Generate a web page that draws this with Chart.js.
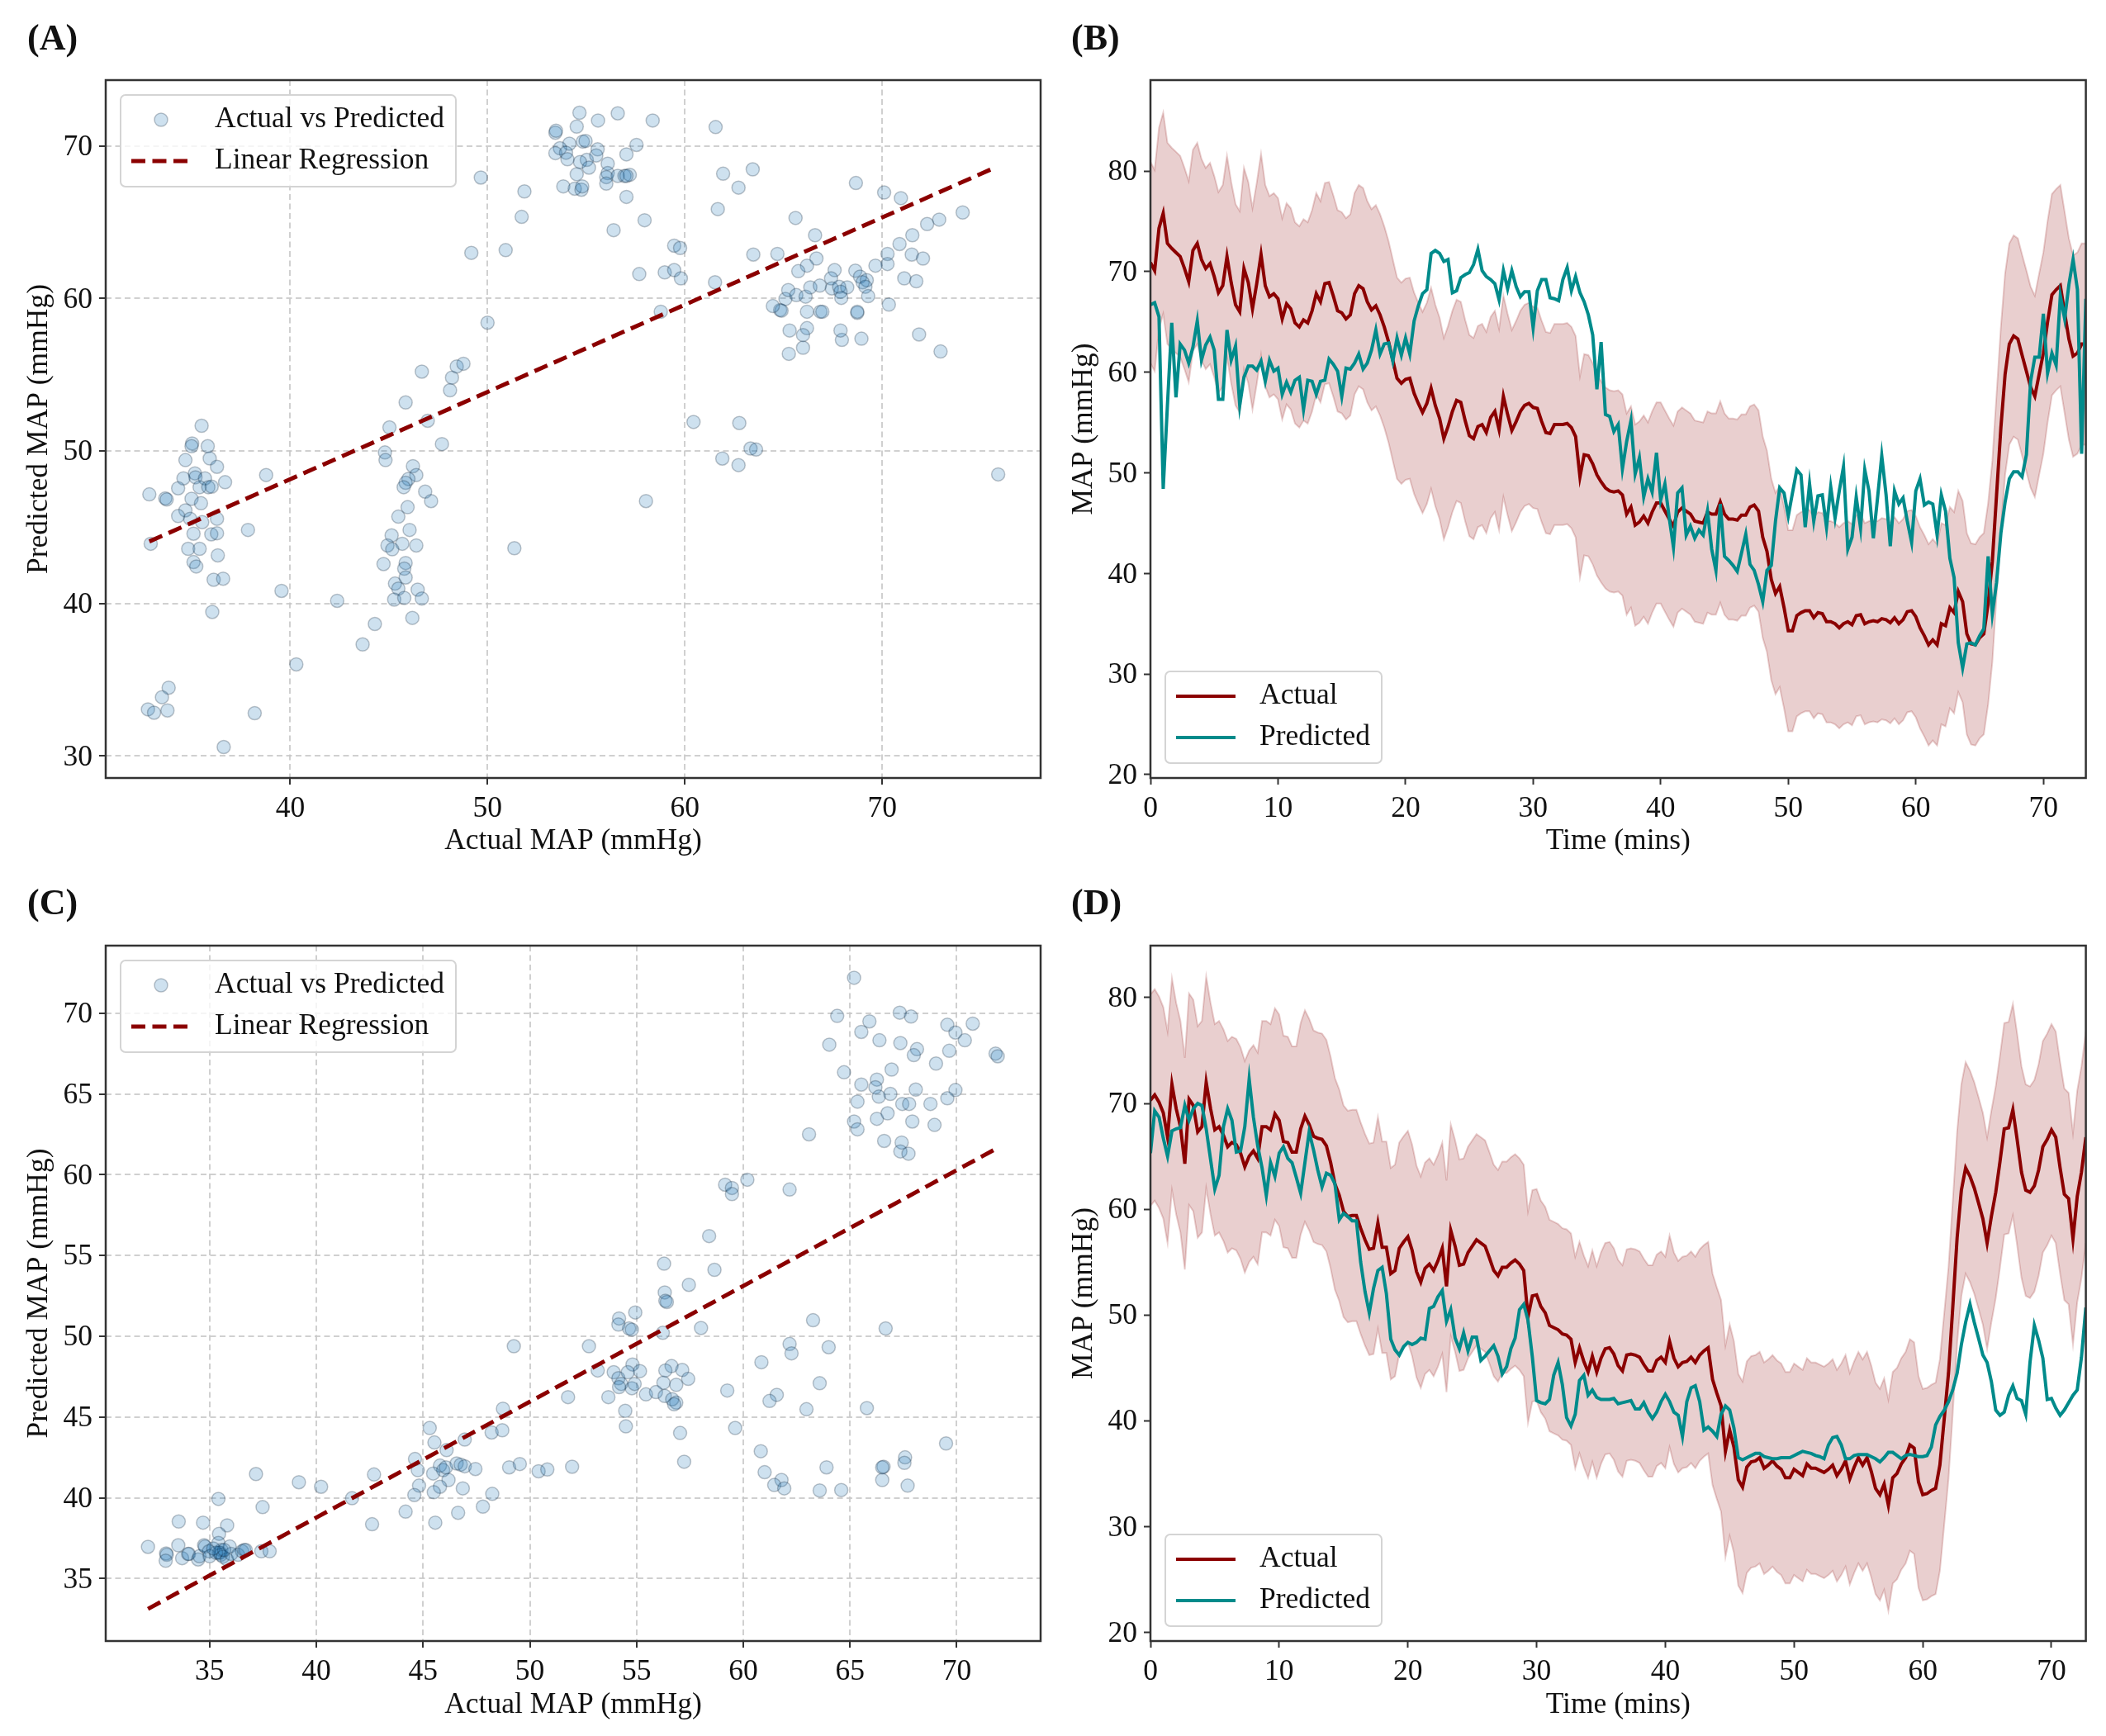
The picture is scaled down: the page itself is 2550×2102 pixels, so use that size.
<!DOCTYPE html>
<html>
<head>
<meta charset="utf-8">
<title>MAP charts</title>
<script src="https://cdn.jsdelivr.net/npm/chart.js"></script>
<style>
  html, body { margin: 0; background: #fff; }
  #page { position: relative; width: 2550px; height: 2102px; overflow: hidden; filter: blur(0.7px); }
  canvas { position: absolute; }
  .tag { position: absolute; font: bold 44px "Liberation Serif", serif; color: #111; line-height: 50px; }
</style>
</head>
<body>
<div id="page">
  <canvas id="chartA" width="1275" height="1051" style="left:0;top:0"></canvas>
  <canvas id="chartB" width="1275" height="1051" style="left:1275px;top:0"></canvas>
  <canvas id="chartC" width="1275" height="1051" style="left:0;top:1051px"></canvas>
  <canvas id="chartD" width="1275" height="1051" style="left:1275px;top:1051px"></canvas>
  <div class="tag" style="left:33px;top:21px">(A)</div>
  <div class="tag" style="left:1297px;top:21px">(B)</div>
  <div class="tag" style="left:33px;top:1068px">(C)</div>
  <div class="tag" style="left:1297px;top:1068px">(D)</div>
</div>
<script>
// panel A scatter
const scatterAX = [53.44,53.47,54.52,54.66,56.6,55.6,58.37,61.56,54.15,54.83,54.97,53.67,53.44,53.98,54.05,55.03,54.69,55.58,55.51,55.14,56.09,56.09,56.02,56.02,56.6,56.94,57.21,57.04,57.04,57.55,54.52,53.84,54.42,54.76,54.8,57.04,56.39,57.96,57.69,58.98,59.46,59.8,59.46,59.76,58.78,49.66,51.87,51.73,49.18,50.92,50.0,61.94,62.72,63.44,61.67,63.47,61.53,64.69,65.61,66.6,66.67,66.19,65.75,68.67,70.1,70.95,70.88,71.53,72.28,72.89,74.08,71.5,72.07,70.27,70.27,69.66,68.64,67.59,67.41,71.12,71.73,68.88,69.22,69.01,69.15,69.29,70.34,71.87,72.96,68.95,67.96,67.89,68.74,68.74,66.87,66.97,66.19,66.19,65.99,65.99,65.27,65.31,64.83,64.9,64.46,65.1,65.24,65.65,66.12,66.36,66.84,67.45,67.82,68.23,67.89,67.93,35.51,35.03,35.0,35.82,35.92,34.69,36.29,35.17,34.59,35.2,35.68,36.7,34.32,35.41,35.85,36.02,32.86,33.67,33.74,35.0,35.48,34.69,34.32,34.93,36.29,35.54,37.86,35.1,36.0,36.29,32.93,34.83,35.41,36.33,35.1,35.24,36.12,36.6,36.05,38.78,39.56,42.38,40.31,38.2,36.63,33.84,33.5,33.78,32.79,33.1,44.29,43.67,51.36,58.03,75.88,60.44,62.76,63.33,63.61,61.9,62.72,46.67,45.85,48.1,48.2,48.44,48.78,46.97,45.03,47.69,44.8,44.83,46.22,46.39,45.99,45.85,45.75,46.84,47.14,45.95,45.48,46.05,45.14,45.68,46.39,44.93,45.17,44.73,45.85,45.78,45.85,45.31,45.48,46.46,46.67,45.27,45.78,46.19];
const scatterAY = [70.87,71.0,71.27,72.18,72.14,71.67,71.67,71.24,70.15,70.29,70.33,69.85,69.53,69.56,69.13,69.09,68.95,69.78,69.38,68.58,68.84,68.22,67.96,67.53,68.04,68.04,68.11,68.04,69.45,70.07,68.15,67.35,67.2,67.13,67.35,66.66,64.48,65.13,61.6,61.71,61.86,61.32,63.46,63.31,59.13,67.93,67.02,65.35,62.99,63.17,58.41,68.18,67.27,68.47,65.86,62.88,61.06,62.92,65.28,64.15,62.62,62.15,61.79,67.57,66.95,66.58,63.57,64.15,64.88,65.17,65.64,62.88,62.62,62.92,62.26,62.15,61.82,61.86,61.32,61.32,61.13,61.43,61.2,61.06,60.77,60.15,59.6,57.64,56.52,57.36,57.28,57.9,59.06,59.13,59.13,59.13,59.13,58.05,57.6,56.77,56.37,57.9,59.24,59.2,59.5,59.97,60.55,60.22,60.12,60.73,60.84,60.66,60.77,60.73,60.44,60.04,51.65,50.49,50.31,50.31,49.51,49.4,48.96,48.53,48.2,48.27,48.2,47.95,47.55,47.62,47.62,47.66,47.15,46.89,46.82,46.86,46.57,46.1,45.73,45.55,45.55,45.33,44.82,44.57,44.53,44.6,43.91,43.58,43.58,43.15,42.71,42.42,41.55,41.62,39.44,48.42,40.82,40.17,36.0,32.8,30.58,34.47,33.85,32.98,33.05,32.83,38.65,37.31,43.62,46.71,48.46,51.9,51.83,50.16,50.09,49.5,49.07,55.2,53.18,53.98,54.81,55.54,55.72,51.98,51.54,50.45,49.9,49.4,49.0,48.42,48.16,47.91,47.62,47.33,46.71,46.31,45.69,44.82,44.46,43.91,43.8,43.8,43.55,42.58,42.65,42.28,41.7,41.3,40.97,40.9,40.32,40.25,40.36,39.05];
const fitAX = [32.86, 75.71];
const fitAY = [44.06, 68.58];

// panel C scatter
const scatterCX = [65.19,64.4,65.91,67.33,67.86,69.56,70.75,69.94,70.38,65.53,66.38,67.36,64.03,68.14,67.99,69.65,71.82,71.92,69.03,66.95,64.72,65.53,66.26,66.19,66.35,66.89,68.08,69.94,69.56,65.35,67.45,67.77,68.77,65.19,65.35,66.26,66.76,67.92,68.96,66.6,67.42,67.36,67.74,63.08,59.15,59.47,59.47,60.19,62.17,58.4,58.65,56.29,57.45,56.32,56.35,56.42,54.18,54.15,54.94,54.65,54.78,56.23,58.02,63.27,66.67,62.17,62.26,64.0,60.85,52.77,49.25,53.18,54.81,56.64,55.16,53.93,56.35,57.14,54.15,54.59,57.42,56.26,56.86,54.28,54.18,54.78,54.91,55.44,55.91,53.68,51.79,56.32,56.67,56.86,56.76,59.25,63.58,61.57,61.23,62.96,65.79,54.47,54.5,59.62,57.04,57.23,60.82,61.0,69.5,67.58,67.55,66.57,66.51,63.9,66.51,67.7,61.79,61.45,61.92,63.58,64.59,45.31,45.53,46.1,46.95,48.21,48.71,48.74,44.62,44.75,45.79,45.47,45.94,46.07,46.57,46.76,46.95,47.45,46.19,44.81,45.79,45.5,44.59,49.03,49.53,50.41,50.82,51.98,42.7,46.86,48.24,46.64,47.8,44.18,45.57,42.61,41.67,40.22,39.18,37.17,37.48,35.41,33.55,34.69,35.82,35.44,32.11,32.96,32.99,32.94,33.53,33.71,34.03,33.99,34.46,34.52,34.74,34.78,34.97,35.0,35.41,35.43,35.49,35.55,35.52,35.62,35.3,35.81,35.94,36.01,36.33,36.52,36.62,36.69,37.42,37.81,35.17,35.68];
const scatterCY = [72.19,69.83,69.49,70.03,69.79,69.28,69.35,68.8,68.32,68.84,68.32,68.15,68.05,67.77,67.4,67.67,67.5,67.33,66.88,66.51,66.34,65.58,65.89,65.41,64.83,65.0,65.27,65.24,64.73,64.52,64.38,64.38,64.38,63.29,62.81,63.46,63.8,63.29,63.08,62.09,61.99,61.44,61.3,62.5,59.38,59.18,58.8,59.69,59.08,56.2,54.11,54.49,53.18,52.71,52.19,52.12,51.1,50.72,51.47,50.48,50.41,50.21,50.51,50.99,50.48,49.52,48.94,49.32,48.39,49.38,49.38,47.88,48.25,48.15,47.84,47.77,47.88,47.91,47.4,47.77,47.36,47.12,46.99,47.05,46.85,46.78,47.05,46.4,46.54,46.23,46.23,46.3,46.1,45.89,45.79,46.64,47.09,46.37,45.99,45.48,45.55,45.38,44.42,44.32,44.01,42.23,42.88,41.58,43.36,42.5,42.16,41.92,41.88,41.88,41.1,40.75,41.1,40.79,40.58,40.45,40.48,44.32,43.42,42.95,43.6,44.04,44.18,45.51,42.4,41.71,41.99,41.5,41.71,41.88,42.12,42.05,41.95,41.78,41.1,40.75,40.68,40.34,40.17,41.88,42.09,41.64,41.75,41.92,41.44,40.58,40.24,39.07,39.45,39.14,38.46,38.36,39.97,40.68,40.96,41.47,39.42,39.93,38.53,38.46,38.29,37.77,36.96,36.55,36.47,36.1,37.06,36.26,36.52,36.52,36.18,36.38,37.06,36.98,36.69,36.38,37.2,36.6,36.6,36.77,36.47,36.35,36.6,36.18,36.98,36.52,36.47,36.69,36.77,36.77,36.69,36.69,36.86,36.77];
const fitCX = [32.11, 71.95];
const fitCY = [33.12, 61.68];

// time axis, minutes
const timeMins = [0,0.33,0.67,1,1.33,1.67,2,2.33,2.67,3,3.33,3.67,4,4.33,4.67,5,5.33,5.67,6,6.33,6.67,7,7.33,7.67,8,8.33,8.67,9,9.33,9.67,10,10.33,10.67,11,11.33,11.67,12,12.33,12.67,13,13.33,13.67,14,14.33,14.67,15,15.33,15.67,16,16.33,16.67,17,17.33,17.67,18,18.33,18.67,19,19.33,19.67,20,20.33,20.67,21,21.33,21.67,22,22.33,22.67,23,23.33,23.67,24,24.33,24.67,25,25.33,25.67,26,26.33,26.67,27,27.33,27.67,28,28.33,28.67,29,29.33,29.67,30,30.33,30.67,31,31.33,31.67,32,32.33,32.67,33,33.33,33.67,34,34.33,34.67,35,35.33,35.67,36,36.33,36.67,37,37.33,37.67,38,38.33,38.67,39,39.33,39.67,40,40.33,40.67,41,41.33,41.67,42,42.33,42.67,43,43.33,43.67,44,44.33,44.67,45,45.33,45.67,46,46.33,46.67,47,47.33,47.67,48,48.33,48.67,49,49.33,49.67,50,50.33,50.67,51,51.33,51.67,52,52.33,52.67,53,53.33,53.67,54,54.33,54.67,55,55.33,55.67,56,56.33,56.67,57,57.33,57.67,58,58.33,58.67,59,59.33,59.67,60,60.33,60.67,61,61.33,61.67,62,62.33,62.67,63,63.33,63.67,64,64.33,64.67,65,65.33,65.67,66,66.33,66.67,67,67.33,67.67,68,68.33,68.67,69,69.33,69.67,70,70.33,70.67,71,71.33,71.67,72,72.33,72.67,73,73.33];

// panel B lines
const actualB = [70.9,70.1,74.3,75.8,72.8,72.3,71.9,71.5,70.3,69.0,72.1,72.8,71.2,70.3,70.8,69.5,67.9,68.6,71.5,68.9,66.7,66.0,70.3,68.9,66.3,68.8,71.7,68.6,67.5,67.8,67.3,65.3,66.8,66.3,64.9,64.5,65.2,64.9,66.1,67.8,67.0,68.8,68.9,67.6,66.1,65.9,65.3,65.7,67.8,68.6,68.3,67.0,66.2,66.6,65.7,64.5,63.0,61.2,59.4,58.9,59.3,59.4,57.9,56.9,56.0,56.9,58.4,56.7,55.4,53.4,54.6,56.1,57.2,57.0,55.2,53.7,53.4,54.6,54.8,54.0,55.5,56.1,54.3,57.6,55.8,54.2,55.1,56.1,56.7,56.9,56.5,56.4,55.1,54.0,53.9,54.8,54.8,54.8,54.9,54.5,53.6,49.6,51.8,51.7,50.9,49.8,49.1,48.5,48.2,48.1,48.2,47.8,45.9,46.6,44.8,45.1,45.7,45.0,46.1,47.0,47.0,46.2,45.4,44.7,46.1,46.5,46.2,45.9,45.2,45.1,45.0,46.1,45.9,45.9,47.1,45.9,45.4,45.4,45.3,45.8,45.8,46.6,46.8,46.2,43.6,42.2,39.4,38.0,38.7,36.6,34.3,34.3,35.8,36.1,36.3,36.3,35.6,36.1,36.0,35.2,35.2,35.0,34.6,35.0,35.2,34.9,35.8,35.9,35.0,35.2,35.3,35.2,35.5,35.4,35.1,35.6,35.0,35.4,36.2,36.3,35.7,34.6,33.8,32.9,33.4,32.9,35.0,34.8,36.6,36.1,38.2,37.2,34.0,33.0,32.9,33.6,34.0,37.0,41.2,47.8,54.5,59.8,62.8,63.6,63.3,61.7,60.1,58.5,57.6,59.8,61.9,65.0,67.7,68.2,68.6,65.9,63.3,61.6,61.9,62.8,62.8];
const predictedB = [66.7,66.9,65.5,48.4,56.7,64.9,57.5,62.8,62.2,60.9,62.5,65.1,61.2,62.7,63.5,62.2,57.3,57.3,64.2,61.2,62.6,56.7,59.5,60.6,60.6,60.2,61.1,59.1,61.2,60.1,60.4,57.8,59.0,58.0,59.2,59.5,56.3,59.2,59.1,57.8,59.1,59.2,61.3,60.8,60.1,57.6,60.4,60.3,60.9,61.8,60.3,60.9,62.2,64.2,61.8,62.8,62.9,61.1,63.4,61.7,63.4,61.8,65.1,66.6,67.8,68.2,71.8,72.1,71.8,71.0,71.2,67.9,68.1,69.4,69.7,69.9,70.7,72.2,70.1,69.5,69.2,68.8,67.2,70.1,68.3,70.1,68.5,67.5,68.0,68.0,64.4,68.1,69.2,69.2,67.4,67.3,67.1,69.2,70.4,68.1,69.5,67.9,67.0,65.7,63.7,58.3,63.0,55.8,55.6,54.1,54.8,50.4,53.1,55.2,49.9,51.5,47.6,49.4,48.1,52.0,47.3,48.9,45.5,42.6,48.0,48.5,43.8,44.7,43.5,44.3,43.8,46.2,42.4,40.3,46.9,41.7,41.3,40.8,40.2,42.0,43.9,40.9,40.3,38.9,37.2,40.3,40.8,45.2,48.5,48.0,45.7,48.0,50.3,49.8,44.6,48.9,45.2,47.7,47.8,44.6,48.6,45.5,48.2,50.6,42.4,43.6,47.6,44.5,50.3,48.2,43.5,47.5,51.7,47.8,42.7,48.2,46.9,47.5,45.2,43.1,48.2,49.4,46.8,47.1,46.9,43.8,47.8,46.2,41.5,39.6,33.1,30.6,33.0,33.1,32.9,33.8,34.5,41.7,36.0,39.1,44.0,47.1,49.4,50.1,50.1,49.6,51.8,59.1,61.5,61.5,65.8,59.9,61.9,60.7,67.6,65.3,68.7,71.2,68.2,51.9,67.3];
const upperB = [80.9,80.1,84.3,85.8,82.8,82.3,81.9,81.5,80.3,79.0,82.1,82.8,81.2,80.3,80.8,79.5,77.9,78.6,81.5,78.9,76.7,76.0,80.3,78.9,76.3,78.8,81.7,78.6,77.5,77.8,77.3,75.3,76.8,76.3,74.9,74.5,75.2,74.9,76.1,77.8,77.0,78.8,78.9,77.6,76.1,75.9,75.3,75.7,77.8,78.6,78.3,77.0,76.2,76.6,75.7,74.5,73.0,71.2,69.4,68.9,69.3,69.4,67.9,66.9,66.0,66.9,68.4,66.7,65.4,63.4,64.6,66.1,67.2,67.0,65.2,63.7,63.4,64.6,64.8,64.0,65.5,66.1,64.3,67.6,65.8,64.2,65.1,66.1,66.7,66.9,66.5,66.4,65.1,64.0,63.9,64.8,64.8,64.8,64.9,64.5,63.6,59.6,61.8,61.7,60.9,59.8,59.1,58.5,58.2,58.1,58.2,57.8,55.9,56.6,54.8,55.1,55.7,55.0,56.1,57.0,57.0,56.2,55.4,54.7,56.1,56.5,56.2,55.9,55.2,55.1,55.0,56.1,55.9,55.9,57.1,55.9,55.4,55.4,55.3,55.8,55.8,56.6,56.8,56.2,53.6,52.2,49.4,48.0,48.7,46.6,44.3,44.3,45.8,46.1,46.3,46.3,45.6,46.1,46.0,45.2,45.2,45.0,44.6,45.0,45.2,44.9,45.8,45.9,45.0,45.2,45.3,45.2,45.5,45.4,45.1,45.6,45.0,45.4,46.2,46.3,45.7,44.6,43.8,42.9,43.4,42.9,45.0,44.8,46.6,46.1,48.2,47.2,44.0,43.0,42.9,43.6,44.0,47.0,51.2,57.8,64.5,69.8,72.8,73.6,73.3,71.7,70.1,68.5,67.6,69.8,71.9,75.0,77.7,78.2,78.6,75.9,73.3,71.6,71.9,72.8,72.8];
const lowerB = [60.9,60.1,64.3,65.8,62.8,62.3,61.9,61.5,60.3,59.0,62.1,62.8,61.2,60.3,60.8,59.5,57.9,58.6,61.5,58.9,56.7,56.0,60.3,58.9,56.3,58.8,61.7,58.6,57.5,57.8,57.3,55.3,56.8,56.3,54.9,54.5,55.2,54.9,56.1,57.8,57.0,58.8,58.9,57.6,56.1,55.9,55.3,55.7,57.8,58.6,58.3,57.0,56.2,56.6,55.7,54.5,53.0,51.2,49.4,48.9,49.3,49.4,47.9,46.9,46.0,46.9,48.4,46.7,45.4,43.4,44.6,46.1,47.2,47.0,45.2,43.7,43.4,44.6,44.8,44.0,45.5,46.1,44.3,47.6,45.8,44.2,45.1,46.1,46.7,46.9,46.5,46.4,45.1,44.0,43.9,44.8,44.8,44.8,44.9,44.5,43.6,39.6,41.8,41.7,40.9,39.8,39.1,38.5,38.2,38.1,38.2,37.8,35.9,36.6,34.8,35.1,35.7,35.0,36.1,37.0,37.0,36.2,35.4,34.7,36.1,36.5,36.2,35.9,35.2,35.1,35.0,36.1,35.9,35.9,37.1,35.9,35.4,35.4,35.3,35.8,35.8,36.6,36.8,36.2,33.6,32.2,29.4,28.0,28.7,26.6,24.3,24.3,25.8,26.1,26.3,26.3,25.6,26.1,26.0,25.2,25.2,25.0,24.6,25.0,25.2,24.9,25.8,25.9,25.0,25.2,25.3,25.2,25.5,25.4,25.1,25.6,25.0,25.4,26.2,26.3,25.7,24.6,23.8,22.9,23.4,22.9,25.0,24.8,26.6,26.1,28.2,27.2,24.0,23.0,22.9,23.6,24.0,27.0,31.2,37.8,44.5,49.8,52.8,53.6,53.3,51.7,50.1,48.5,47.6,49.8,51.9,55.0,57.7,58.2,58.6,55.9,53.3,51.6,51.9,52.8,52.8];

// panel D lines
const actualD = [70.3,70.8,70.1,69.1,66.8,71.8,69.5,67.8,64.3,70.4,69.8,67.3,67.8,72.0,69.5,67.5,67.8,67.0,65.9,66.3,66.1,65.3,64.0,65.0,65.5,64.8,67.8,67.8,67.5,69.0,68.4,66.4,66.3,65.4,65.4,67.6,68.8,68.0,66.9,66.7,66.6,66.0,64.4,62.4,61.3,59.8,59.3,59.4,59.4,58.2,57.1,56.2,56.3,58.7,56.4,56.4,53.9,54.2,56.3,56.9,57.4,56.1,54.1,53.1,54.4,54.8,54.2,55.1,56.3,52.7,58.0,56.5,54.7,54.8,55.9,56.5,57.1,56.8,56.5,55.4,54.2,53.7,54.5,54.5,54.9,55.2,54.8,54.2,49.8,51.8,51.9,50.8,50.2,49.0,48.8,48.6,48.2,48.1,47.7,45.5,46.9,45.6,44.6,46.1,44.6,45.9,46.8,46.9,46.3,45.2,44.7,46.2,46.3,46.2,46.0,45.3,44.7,44.7,45.7,46.0,45.5,47.5,45.9,45.1,45.5,45.6,46.0,45.5,46.2,46.6,46.9,43.9,42.6,41.4,37.1,39.1,37.5,34.4,33.7,35.6,36.1,36.2,36.5,35.5,35.8,36.2,35.7,35.4,34.6,34.6,35.4,35.1,34.8,35.9,35.5,35.5,35.3,35.1,35.4,35.8,34.8,35.4,36.2,34.5,35.6,36.5,35.8,36.5,35.2,33.6,33.0,34.0,32.0,34.6,35.0,35.9,36.5,37.7,37.4,34.2,33.0,33.1,33.4,33.6,35.8,40.2,44.5,50.7,57.3,61.8,63.9,63.1,62.0,60.6,59.1,56.8,59.3,61.6,64.5,67.6,67.7,69.4,66.6,63.5,61.8,61.6,62.2,63.7,65.9,66.6,67.5,66.8,63.9,61.4,61.0,57.2,61.2,63.5,66.8];
const predictedD = [65.3,69.3,68.7,66.7,65.0,67.4,67.6,67.7,69.8,68.4,69.5,70.0,69.8,67.6,64.7,61.9,63.2,67.8,69.5,68.4,65.4,65.5,67.8,72.3,68.7,66.0,63.9,61.3,64.4,63.1,65.3,65.9,64.8,64.4,63.0,61.5,64.4,67.3,65.6,63.7,62.1,63.4,63.2,62.4,59.0,59.6,59.3,58.9,58.9,55.0,52.2,50.2,52.5,54.2,54.5,52.0,47.7,46.7,46.2,47.0,47.4,47.2,47.4,47.8,47.7,50.6,50.8,51.7,52.3,49.4,50.5,47.8,46.8,48.3,46.6,47.9,47.9,45.7,46.1,46.6,47.1,46.1,44.4,45.1,46.8,47.8,50.5,51.0,49.5,46.0,41.9,41.7,41.6,42.0,44.3,45.5,43.4,40.3,39.5,40.6,43.8,44.3,42.4,42.9,42.2,42.0,42.0,42.0,42.1,41.6,41.7,41.8,41.9,41.1,41.1,41.7,40.8,40.2,40.8,41.8,42.5,41.8,40.8,40.5,38.5,41.8,43.1,43.3,41.8,39.1,39.4,39.0,38.5,40.6,41.4,41.0,39.3,36.5,36.3,36.5,36.7,36.9,36.9,36.6,36.5,36.4,36.4,36.5,36.5,36.5,36.7,36.9,37.1,37.0,36.9,36.7,36.6,36.4,37.7,38.4,38.5,37.7,36.4,36.4,36.7,36.8,36.8,36.8,36.6,36.4,36.1,36.5,37.0,37.0,36.7,36.4,36.7,36.8,36.7,36.6,36.6,36.7,37.5,39.6,40.4,41.0,41.8,42.9,44.5,47.2,49.3,51.0,49.3,47.8,46.2,45.5,43.7,41.0,40.5,40.8,42.4,43.3,42.1,41.9,40.6,45.5,49.0,47.6,45.9,42.0,42.1,41.2,40.5,41.0,41.7,42.4,42.9,46.0,50.7];
const upperD = [80.3,80.8,80.1,79.1,76.8,81.8,79.5,77.8,74.3,80.4,79.8,77.3,77.8,82.0,79.5,77.5,77.8,77.0,75.9,76.3,76.1,75.3,74.0,75.0,75.5,74.8,77.8,77.8,77.5,79.0,78.4,76.4,76.3,75.4,75.4,77.6,78.8,78.0,76.9,76.7,76.6,76.0,74.4,72.4,71.3,69.8,69.3,69.4,69.4,68.2,67.1,66.2,66.3,68.7,66.4,66.4,63.9,64.2,66.3,66.9,67.4,66.1,64.1,63.1,64.4,64.8,64.2,65.1,66.3,62.7,68.0,66.5,64.7,64.8,65.9,66.5,67.1,66.8,66.5,65.4,64.2,63.7,64.5,64.5,64.9,65.2,64.8,64.2,59.8,61.8,61.9,60.8,60.2,59.0,58.8,58.6,58.2,58.1,57.7,55.5,56.9,55.6,54.6,56.1,54.6,55.9,56.8,56.9,56.3,55.2,54.7,56.2,56.3,56.2,56.0,55.3,54.7,54.7,55.7,56.0,55.5,57.5,55.9,55.1,55.5,55.6,56.0,55.5,56.2,56.6,56.9,53.9,52.6,51.4,47.1,49.1,47.5,44.4,43.7,45.6,46.1,46.2,46.5,45.5,45.8,46.2,45.7,45.4,44.6,44.6,45.4,45.1,44.8,45.9,45.5,45.5,45.3,45.1,45.4,45.8,44.8,45.4,46.2,44.5,45.6,46.5,45.8,46.5,45.2,43.6,43.0,44.0,42.0,44.6,45.0,45.9,46.5,47.7,47.4,44.2,43.0,43.1,43.4,43.6,45.8,50.2,54.5,60.7,67.3,71.8,73.9,73.1,72.0,70.6,69.1,66.8,69.3,71.6,74.5,77.6,77.7,79.4,76.6,73.5,71.8,71.6,72.2,73.7,75.9,76.6,77.5,76.8,73.9,71.4,71.0,67.2,71.2,73.5,76.8];
const lowerD = [60.3,60.8,60.1,59.1,56.8,61.8,59.5,57.8,54.3,60.4,59.8,57.3,57.8,62.0,59.5,57.5,57.8,57.0,55.9,56.3,56.1,55.3,54.0,55.0,55.5,54.8,57.8,57.8,57.5,59.0,58.4,56.4,56.3,55.4,55.4,57.6,58.8,58.0,56.9,56.7,56.6,56.0,54.4,52.4,51.3,49.8,49.3,49.4,49.4,48.2,47.1,46.2,46.3,48.7,46.4,46.4,43.9,44.2,46.3,46.9,47.4,46.1,44.1,43.1,44.4,44.8,44.2,45.1,46.3,42.7,48.0,46.5,44.7,44.8,45.9,46.5,47.1,46.8,46.5,45.4,44.2,43.7,44.5,44.5,44.9,45.2,44.8,44.2,39.8,41.8,41.9,40.8,40.2,39.0,38.8,38.6,38.2,38.1,37.7,35.5,36.9,35.6,34.6,36.1,34.6,35.9,36.8,36.9,36.3,35.2,34.7,36.2,36.3,36.2,36.0,35.3,34.7,34.7,35.7,36.0,35.5,37.5,35.9,35.1,35.5,35.6,36.0,35.5,36.2,36.6,36.9,33.9,32.6,31.4,27.1,29.1,27.5,24.4,23.7,25.6,26.1,26.2,26.5,25.5,25.8,26.2,25.7,25.4,24.6,24.6,25.4,25.1,24.8,25.9,25.5,25.5,25.3,25.1,25.4,25.8,24.8,25.4,26.2,24.5,25.6,26.5,25.8,26.5,25.2,23.6,23.0,24.0,22.0,24.6,25.0,25.9,26.5,27.7,27.4,24.2,23.0,23.1,23.4,23.6,25.8,30.2,34.5,40.7,47.3,51.8,53.9,53.1,52.0,50.6,49.1,46.8,49.3,51.6,54.5,57.6,57.7,59.4,56.6,53.5,51.8,51.6,52.2,53.7,55.9,56.6,57.5,56.8,53.9,51.4,51.0,47.2,51.2,53.5,56.8];

const scatterLegend = ["Actual vs Predicted", "Linear Regression"];
const lineLegend = ["Actual", "Predicted"];

const SERIF = '"Liberation Serif", "Times New Roman", serif';
const FONT_SIZE = 35.5;
const DARKRED = "#8b0000";
const DARKCYAN = "#008b8b";
const POINT_FILL = "rgba(31,119,180,0.22)";
const POINT_EDGE = "rgba(10,30,50,0.26)";
const BAND = "rgba(139,0,0,0.19)";
const FIT_DASH = [17, 8.5];

function zip(xs, ys) {
    return ys.map((y, i) => ({ x: xs[i], y: y }));
}

// top and right side of the frame, Chart.js only has the axis borders
const framePlugin = {
    id: "frame",
    afterDraw(chart) {
        const a = chart.chartArea, ctx = chart.ctx;
        ctx.save();
        ctx.strokeStyle = "#333";
        ctx.lineWidth = 2.5;
        ctx.strokeRect(a.left, a.top, a.right - a.left, a.bottom - a.top);
        ctx.restore();
    }
};

// legend inside the plot area, like matplotlib
const insetLegendPlugin = {
    id: "insetLegend",
    afterDatasetsDraw(chart, args, opts) {
        const a = chart.chartArea, ctx = chart.ctx;
        const x = a.left + 18;
        const y = opts.bottom ? a.bottom - 18 - 111 : a.top + 18;
        ctx.save();
        ctx.beginPath();
        ctx.roundRect(x, y, opts.width, 111, 6);
        ctx.fillStyle = "rgba(255,255,255,0.8)";
        ctx.fill();
        ctx.strokeStyle = "#d4d4d4";
        ctx.lineWidth = 2;
        ctx.stroke();
        opts.items.forEach((item, i) => {
            const rowY = y + 30 + i * 50;
            if (item.marker) {
                ctx.beginPath();
                ctx.arc(x + 49, rowY, 8, 0, Math.PI * 2);
                ctx.fillStyle = POINT_FILL;
                ctx.fill();
                ctx.strokeStyle = POINT_EDGE;
                ctx.lineWidth = 1.5;
                ctx.stroke();
            } else {
                ctx.beginPath();
                ctx.setLineDash(item.dash || []);
                ctx.moveTo(x + 13, rowY);
                ctx.lineTo(x + 85, rowY);
                ctx.strokeStyle = item.color;
                ctx.lineWidth = item.dash ? 5 : 4;
                ctx.stroke();
                ctx.setLineDash([]);
            }
            ctx.fillStyle = "#111";
            ctx.font = FONT_SIZE + "px " + SERIF;
            ctx.textBaseline = "middle";
            ctx.fillText(item.label, x + 114, rowY);
        });
        ctx.restore();
    }
};

Chart.register(framePlugin, insetLegendPlugin);
Chart.defaults.font.family = SERIF;
Chart.defaults.color = "#111";

function axis(o) {
    const grid = o.grid
        ? { display: true, color: "rgba(200,200,200,0.85)", lineWidth: 2, tickColor: "#333", tickLength: 8, tickWidth: 2, tickBorderDash: [] }
        : { display: true, drawOnChartArea: false, tickColor: "#333", tickLength: 8, tickWidth: 2 };
    const s = {
        type: "linear",
        position: o.position,
        min: o.min,
        max: o.max,
        border: { display: false, dash: o.grid ? [7, 4.5] : [] },
        grid: grid,
        ticks: {
            stepSize: o.step,
            includeBounds: false,
            autoSkip: false,
            maxRotation: 0,
            padding: o.tickPad,
            labelOffset: o.position === "left" ? 2 : 0,
            color: "#111",
            font: { size: FONT_SIZE }
        },
        title: {
            display: true,
            text: o.title,
            color: "#111",
            font: { size: FONT_SIZE },
            padding: o.titlePad
        },
        afterFit(scale) {
            if (o.position === "left") scale.width = o.size;
            else scale.height = o.size;
        }
    };
    return s;
}

function scatterPanel(id, xs, ys, fitX, fitY, ranges, frame) {
    new Chart(document.getElementById(id), {
        type: "scatter",
        data: {
            datasets: [
                {
                    label: scatterLegend[1],
                    data: zip(fitX, fitY),
                    showLine: true,
                    pointRadius: 0,
                    borderColor: DARKRED,
                    borderWidth: 5,
                    borderDash: FIT_DASH
                },
                {
                    label: scatterLegend[0],
                    data: zip(xs, ys),
                    pointRadius: 8,
                    borderWidth: 1.5,
                    backgroundColor: POINT_FILL,
                    borderColor: POINT_EDGE
                }
            ]
        },
        options: {
            responsive: false,
            animation: false,
            devicePixelRatio: 1,
            layout: { padding: frame.padding },
            plugins: {
                legend: { display: false },
                tooltip: { enabled: false },
                insetLegend: {
                    width: 406,
                    items: [
                        { label: scatterLegend[0], marker: true },
                        { label: scatterLegend[1], color: DARKRED, dash: FIT_DASH }
                    ]
                }
            },
            scales: {
                x: axis({ position: "bottom", min: ranges.x[0], max: ranges.x[1], step: ranges.x[2], grid: true, title: "Actual MAP (mmHg)", size: frame.xSize, tickPad: 8, titlePad: { top: 0, bottom: frame.xTitle } }),
                y: axis({ position: "left", min: ranges.y[0], max: ranges.y[1], step: ranges.y[2], grid: true, title: "Predicted MAP (mmHg)", size: frame.ySize, tickPad: 8, titlePad: { top: frame.yTitle, bottom: 0 } })
            }
        }
    });
}

function linePanel(id, actual, predicted, upper, lower, ranges, frame) {
    const band = { pointRadius: 0, borderColor: BAND, borderWidth: 2, tension: 0 };
    new Chart(document.getElementById(id), {
        type: "line",
        data: {
            datasets: [
                { label: lineLegend[1], data: zip(timeMins, predicted), borderColor: DARKCYAN, borderWidth: 4, pointRadius: 0, tension: 0, fill: false },
                { label: lineLegend[0], data: zip(timeMins, actual), borderColor: DARKRED, borderWidth: 4, pointRadius: 0, tension: 0, fill: false },
                Object.assign({ label: "upper", data: zip(timeMins, upper), fill: "+1", backgroundColor: BAND }, band),
                Object.assign({ label: "lower", data: zip(timeMins, lower), fill: false }, band)
            ]
        },
        options: {
            responsive: false,
            animation: false,
            devicePixelRatio: 1,
            layout: { padding: frame.padding },
            plugins: {
                legend: { display: false },
                tooltip: { enabled: false },
                insetLegend: {
                    width: 262,
                    bottom: true,
                    items: [
                        { label: lineLegend[0], color: DARKRED },
                        { label: lineLegend[1], color: DARKCYAN }
                    ]
                }
            },
            scales: {
                x: axis({ position: "bottom", min: ranges.x[0], max: ranges.x[1], step: ranges.x[2], title: "Time (mins)", size: frame.xSize, tickPad: 8, titlePad: { top: 0, bottom: frame.xTitle } }),
                y: axis({ position: "left", min: ranges.y[0], max: ranges.y[1], step: ranges.y[2], title: "MAP (mmHg)", size: frame.ySize, tickPad: 8, titlePad: { top: frame.yTitle, bottom: 0 } })
            }
        }
    });
}

scatterPanel("chartA", scatterAX, scatterAY, fitAX, fitAY,
    { x: [30.65, 78.03, 10], y: [28.55, 74.32, 10] },
    { padding: { top: 97, right: 15 }, xSize: 109, ySize: 128, xTitle: 11, yTitle: 26 });

linePanel("chartB", actualB, predictedB, upperB, lowerB,
    { x: [0, 73.33, 10], y: [19.67, 89.03, 10] },
    { padding: { top: 97, right: 24.4 }, xSize: 109, ySize: 118, xTitle: 11, yTitle: 16 });

scatterPanel("chartC", scatterCX, scatterCY, fitCX, fitCY,
    { x: [30.13, 73.93, 5], y: [31.13, 74.18, 5] },
    { padding: { top: 94, right: 15 }, xSize: 115, ySize: 128, xTitle: 16, yTitle: 26 });

linePanel("chartD", actualD, predictedD, upperD, lowerD,
    { x: [0, 72.67, 10], y: [19.16, 84.92, 10] },
    { padding: { top: 94, right: 24.4 }, xSize: 115, ySize: 118, xTitle: 16, yTitle: 16 });
</script>
</body>
</html>
